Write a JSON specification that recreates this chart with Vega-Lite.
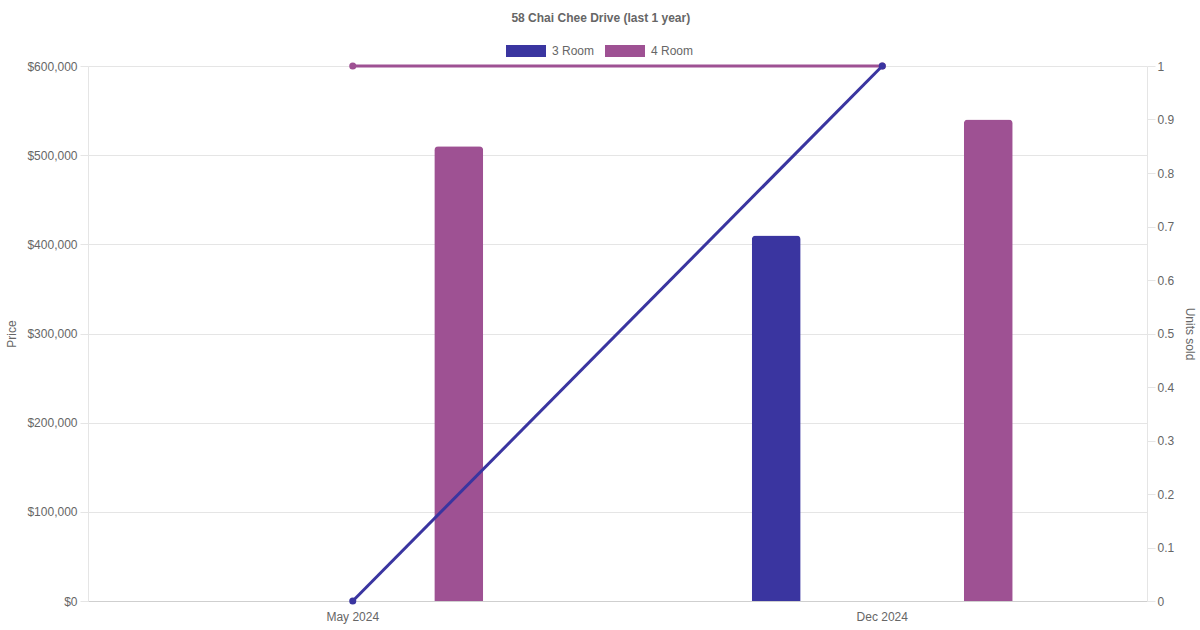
{
  "$schema": "https://vega.github.io/schema/vega-lite/v6.json",
  "width": 1059,
  "height": 535,
  "autosize": "none",
  "padding": {"left": 88, "top": 66, "right": 53, "bottom": 29},
  "background": "white",
  "title": {
    "text": "58 Chai Chee Drive (last 1 year)",
    "frame": "bounds",
    "anchor": "middle",
    "fontSize": 12,
    "fontWeight": "bold",
    "color": "#666666",
    "font": "Liberation Sans",
    "offset": 6
  },
  "config": {
    "view": {"stroke": null},
    "font": "Liberation Sans",
    "axis": {
      "labelFont": "Liberation Sans",
      "labelFontSize": 12,
      "labelColor": "#666666",
      "titleFont": "Liberation Sans",
      "titleFontSize": 12,
      "titleFontWeight": "normal",
      "titleColor": "#666666"
    },
    "legend": {
      "orient": "none",
      "legendX": 418,
      "legendY": -35,
      "direction": "horizontal",
      "labelFont": "Liberation Sans",
      "labelFontSize": 12,
      "labelColor": "#666666",
      "symbolType": "M-1,-0.3H1V0.3H-1Z",
      "symbolSize": 1600,
      "symbolStrokeWidth": 0,
      "labelOffset": 6,
      "columnPadding": 10
    }
  },
  "data": {
    "values": [
      {"month": "May 2024", "type": "3 Room", "price": null, "units": 0},
      {"month": "May 2024", "type": "4 Room", "price": 510000, "units": 1},
      {"month": "Dec 2024", "type": "3 Room", "price": 410000, "units": 1},
      {"month": "Dec 2024", "type": "4 Room", "price": 540000, "units": 1}
    ]
  },
  "encoding": {
    "x": {
      "field": "month",
      "type": "nominal",
      "sort": ["May 2024", "Dec 2024"],
      "scale": {"paddingInner": 0, "paddingOuter": 0},
      "axis": {
        "title": null,
        "labelAngle": 0,
        "ticks": false,
        "grid": false,
        "domainColor": "#cfcfcf",
        "labelPadding": 10
      }
    }
  },
  "layer": [
    {
      "mark": {"type": "bar", "cornerRadiusTopLeft": 4, "cornerRadiusTopRight": 4},
      "encoding": {
        "xOffset": {
          "field": "type",
          "type": "nominal",
          "scale": {"domain": ["3 Room", "4 Room"], "paddingInner": 0.769, "paddingOuter": 0.633}
        },
        "y": {
          "field": "price",
          "type": "quantitative",
          "scale": {"domain": [0, 600000], "nice": false},
          "axis": {
            "title": "Price",
            "format": "$,.0f",
            "values": [0, 100000, 200000, 300000, 400000, 500000, 600000],
            "grid": true,
            "gridColor": "#e5e5e5",
            "domainColor": "#e5e5e5",
            "tickColor": "#e5e5e5",
            "tickSize": 8,
            "labelPadding": 3,
            "titlePadding": 8
          }
        },
        "color": {
          "field": "type",
          "type": "nominal",
          "scale": {"domain": ["3 Room", "4 Room"], "range": ["#3A35A0", "#9E5193"]},
          "legend": {"title": null}
        }
      }
    },
    {
      "transform": [{"filter": "datum.type === '4 Room'"}],
      "mark": {"type": "line", "color": "#9E5193", "strokeWidth": 3, "point": {"filled": true, "size": 50, "color": "#9E5193"}},
      "encoding": {
        "y": {
          "field": "units",
          "type": "quantitative",
          "scale": {"domain": [0, 1], "nice": false},
          "axis": null
        }
      }
    },
    {
      "transform": [{"filter": "datum.type === '3 Room'"}],
      "mark": {"type": "line", "color": "#3A35A0", "strokeWidth": 3, "point": {"filled": true, "size": 50, "color": "#3A35A0"}},
      "encoding": {
        "y": {
          "field": "units",
          "type": "quantitative",
          "scale": {"domain": [0, 1], "nice": false},
          "axis": {
            "orient": "right",
            "title": "Units sold",
            "format": "~g",
            "values": [0, 0.1, 0.2, 0.3, 0.4, 0.5, 0.6, 0.7, 0.8, 0.9, 1],
            "grid": false,
            "domainColor": "#e5e5e5",
            "tickColor": "#e5e5e5",
            "tickSize": 8,
            "labelPadding": 2,
            "titlePadding": 9
          }
        }
      }
    }
  ],
  "resolve": {"scale": {"y": "independent"}}
}
